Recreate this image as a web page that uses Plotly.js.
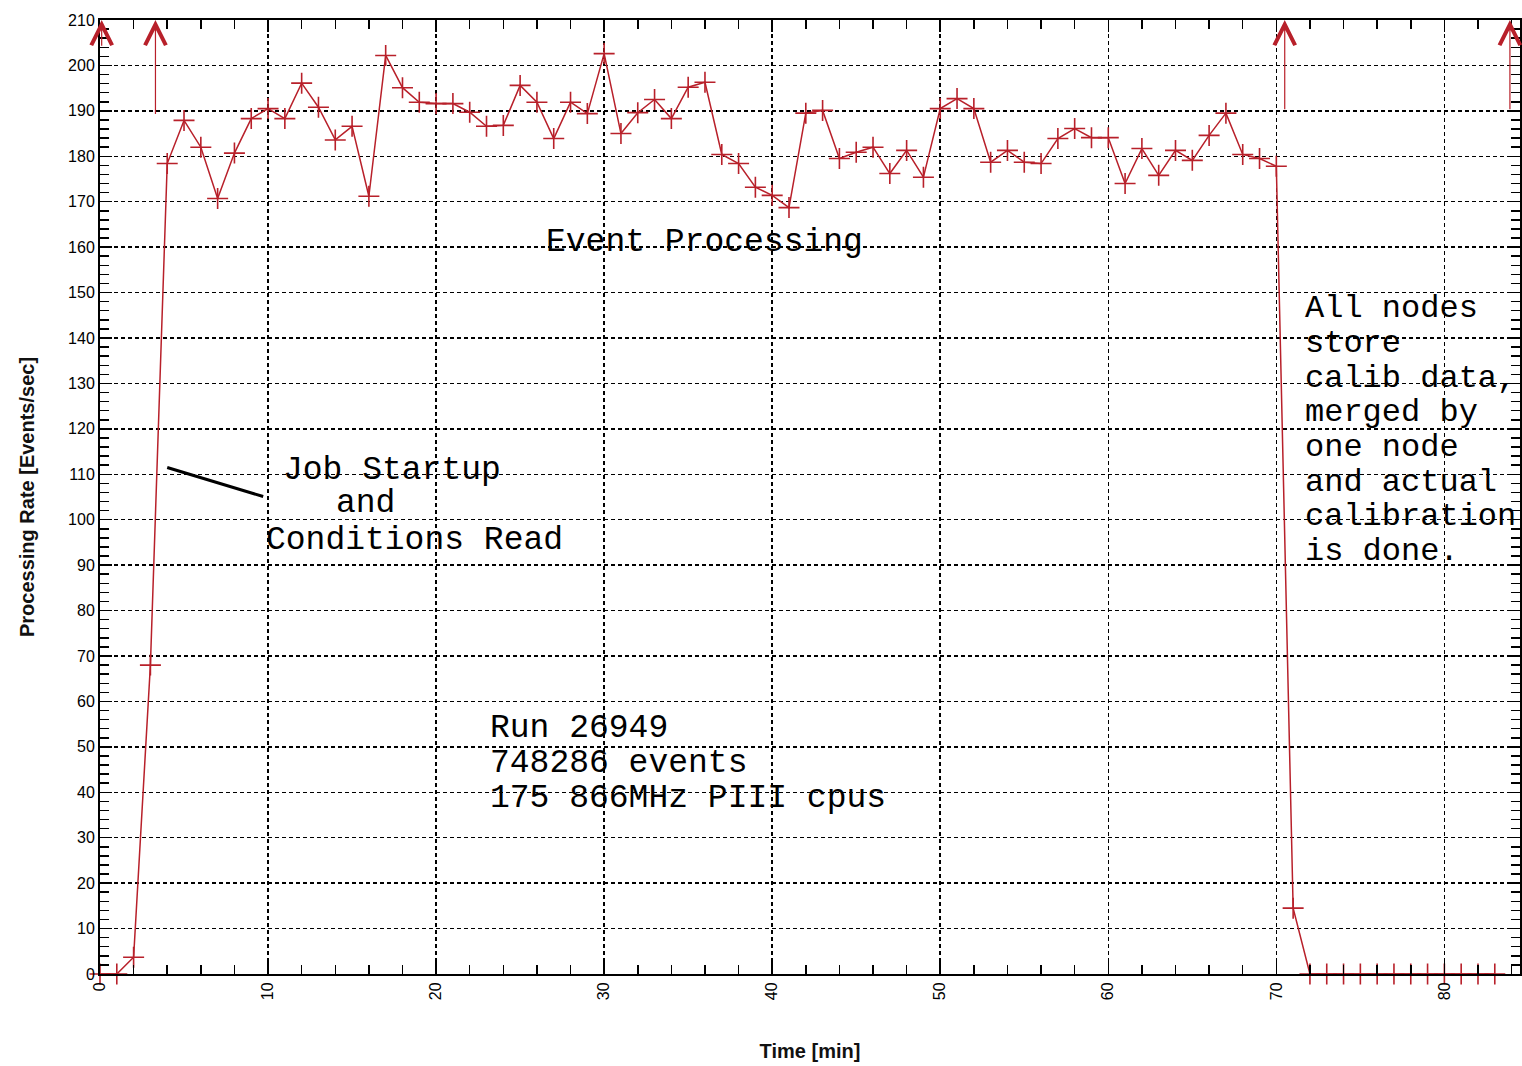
<!DOCTYPE html>
<html>
<head>
<meta charset="utf-8">
<script src="https://cdn.plot.ly/plotly-3.0.1.min.js"></script>
<style>
  html, body { margin: 0; padding: 0; background: #ffffff; }
  #chart { width: 1522px; height: 1066px; }
</style>
</head>
<body>
<div id="chart"></div>
<script>
// ---- data ----
const timeMin = [0,1,2,3,4,5,6,7,8,9,10,11,12,13,14,15,16,17,18,19,20,21,22,23,24,25,26,27,28,29,
  30,31,32,33,34,35,36,37,38,39,40,41,42,43,44,45,46,47,48,49,50,51,52,53,54,55,56,57,58,59,
  60,61,62,63,64,65,66,67,68,69,70,71,72,73,74,75,76,77,78,79,80,81,82,83];
const rate = [0,0,3.7,68,178.4,187.9,182,170.7,180.7,188.3,190.5,188.3,196.1,190.8,183.6,186.6,171.2,202.2,195.1,191.9,
  191.6,191.6,189.7,186.6,186.8,195.6,191.9,183.9,191.9,189.4,202.6,185,189.6,192.5,188.3,195.2,196.3,180.4,178.4,173.2,
  171.4,168.7,189.5,190.1,179.5,180.9,182,176.2,181.3,175.4,190.5,192.7,190.5,178.7,181.3,178.7,178.4,183.9,186.1,184.1,
  184.1,174,181.7,175.8,181.3,179.1,184.6,189.5,180.4,179.5,177.8,14.5,0,0,0,0,0,0,0,0,0,0,0,0];

// off-scale arrows (x position, tail value)
const arrowX = [0.1, 3.3, 70.5, 83.9];
const arrowTail = [204, 189, 190, 190];

// text labels
const eventLabel = ["Event Processing"];
const eventPos = [[36.0, 161]];
const startupLines = ["Job Startup", "and", "Conditions Read"];
const startupPos = [[17.4, 110.9], [15.8, 103.6], [18.7, 95.5]];
const runLines = ["Run 26949", "748286 events", "175 866MHz PIII cpus"];
const runPos = [[23.1, 54.1], [23.1, 46.4], [23.1, 38.7]];
const calibLines = ["All nodes", "store", "calib data,", "merged by", "one node", "and actual", "calibration", "is done."];
const calibPos = [[71.6,146.5],[71.6,138.8],[71.6,131.1],[71.6,123.7],[71.6,116.0],[71.6,108.3],[71.6,100.8],[71.6,93.1]];
const pointerLine = [[9.8, 105], [4.0, 111.5]]; // from label to curve

const xTitle = "Time [min]";
const yTitle = "Processing Rate [Events/sec]";

// ---- styles ----
const red = "#b8202a";
const mono = "Liberation Mono, DejaVu Sans Mono, monospace";
const sans = "Liberation Sans, Arial, sans-serif";

const annotations = [];
function addText(lines, pos, anchor, size) {
  lines.forEach((t, i) => {
    annotations.push({
      x: pos[i][0], y: pos[i][1], xref: "x", yref: "y",
      text: t, showarrow: false, xanchor: anchor, yanchor: "middle",
      font: {family: mono, size: size, color: "#000"}
    });
  });
}
addText(eventLabel, eventPos, "center", 33);
addText(startupLines, startupPos, "center", 33);
addText(runLines, runPos, "left", 33);
addText(calibLines, calibPos, "left", 32);

annotations.push({
  x: pointerLine[1][0], y: pointerLine[1][1], ax: pointerLine[0][0], ay: pointerLine[0][1],
  xref: "x", yref: "y", axref: "x", ayref: "y", text: "", showarrow: true,
  arrowhead: 0, arrowwidth: 3, arrowcolor: "#000"
});

arrowX.forEach((x, i) => {
  annotations.push({
    x: x, y: 210, ax: x, ay: arrowTail[i],
    xref: "x", yref: "y", axref: "x", ayref: "y", text: "", showarrow: true,
    arrowhead: 5, arrowsize: 3.4, arrowwidth: 1.2, arrowcolor: red, standoff: 0
  });
});

const trace = {
  x: timeMin, y: rate, type: "scatter", mode: "lines+markers",
  line: {color: red, width: 1.5},
  marker: {symbol: "cross-thin-open", size: 15, color: red, line: {color: red, width: 1.6}},
  cliponaxis: false, showlegend: false
};

const axisCommon = {
  showline: true, linecolor: "#000", linewidth: 2, mirror: "ticks",
  ticks: "inside", ticklen: 12, tickwidth: 1.5, tickcolor: "#000",
  showgrid: true, gridcolor: "#000", gridwidth: 1.5, griddash: "4px,3px",
  zeroline: false, tickfont: {family: sans, size: 16, color: "#000"},
  automargin: false
};

const layout = {
  width: 1522, height: 1066,
  margin: {l: 100, r: 2, t: 20, b: 92},
  paper_bgcolor: "#ffffff", plot_bgcolor: "#ffffff",
  showlegend: false,
  xaxis: Object.assign({}, axisCommon, {
    range: [0, 84.5], dtick: 10, tick0: 0, tickangle: -90,
    minor: {dtick: 2, ticks: "inside", ticklen: 9, tickwidth: 1.5, tickcolor: "#000", showgrid: false},
    title: {text: xTitle, font: {family: sans, size: 20, weight: "bold", color: "#111"}, standoff: 45}
  }),
  yaxis: Object.assign({}, axisCommon, {
    range: [0, 210], dtick: 10, tick0: 0,
    minor: {dtick: 2, ticks: "inside", ticklen: 9, tickwidth: 1.5, tickcolor: "#000", showgrid: false},
    title: {text: yTitle, font: {family: sans, size: 20, weight: "bold", color: "#111"}, standoff: 28}
  }),
  annotations: annotations
};

Plotly.newPlot("chart", [trace], layout, {staticPlot: true, displayModeBar: false});
</script>
</body>
</html>
